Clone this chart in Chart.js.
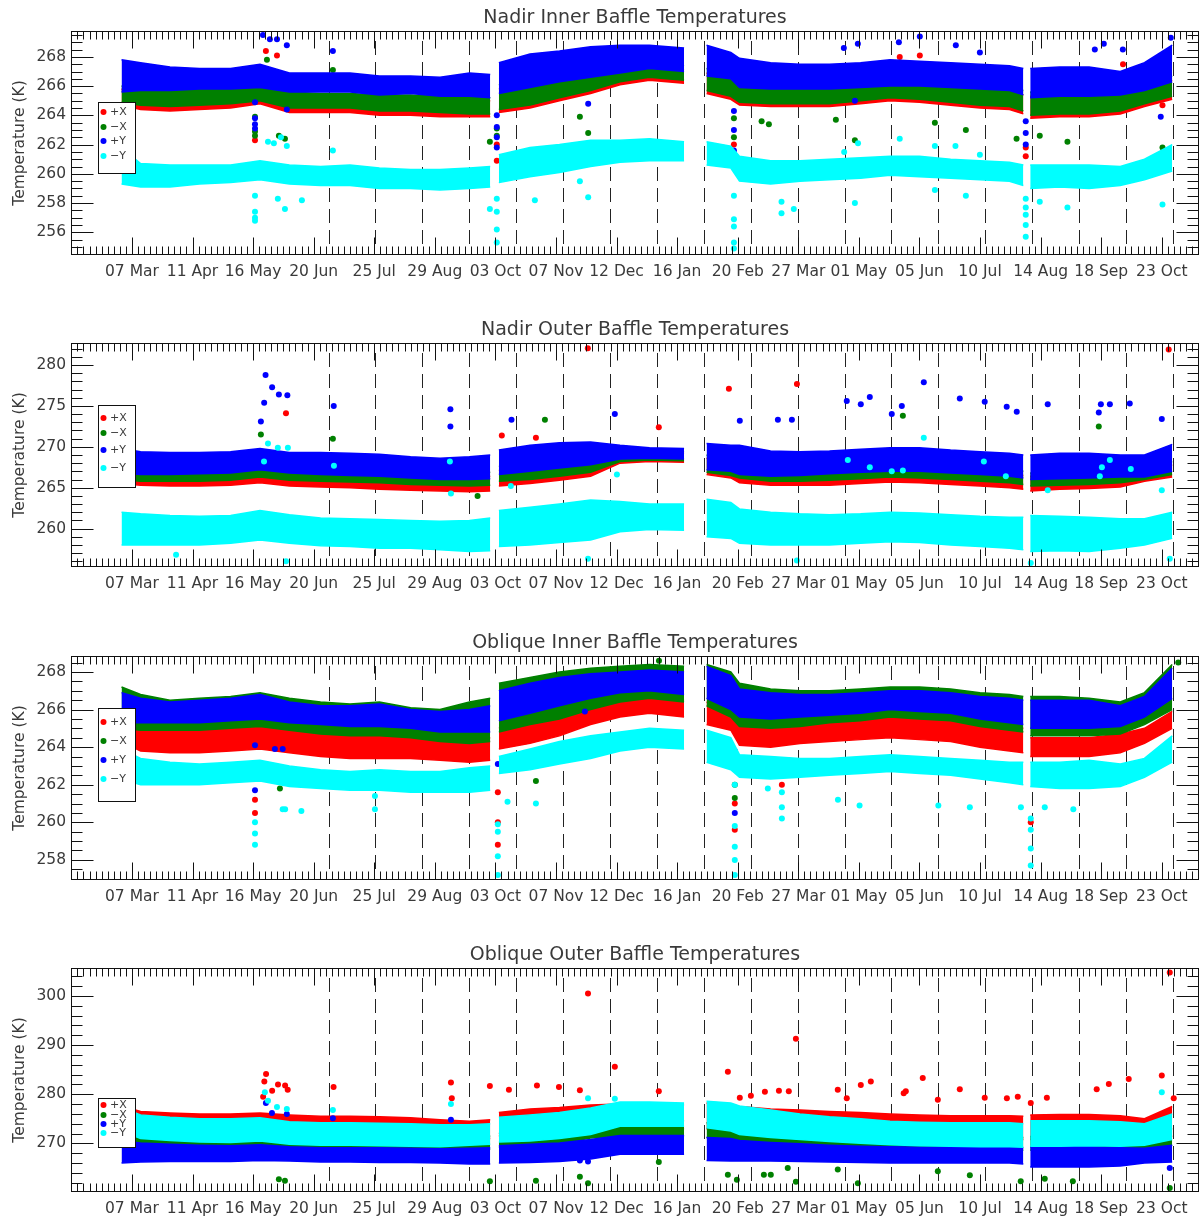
<!DOCTYPE html>
<html><head><meta charset="utf-8">
<script src="https://cdn.jsdelivr.net/npm/chart.js@4.4.1/dist/chart.umd.min.js"></script>
<style>
html,body{margin:0;padding:0;background:#fff;overflow:hidden;}
#wrap{position:relative;width:1203px;height:1221px;background:#fff;}
canvas{position:absolute;left:0;}
</style></head><body>
<div id="wrap">
<canvas id="c0" width="1203" height="312" style="top:0px"></canvas>
<canvas id="c1" width="1203" height="312" style="top:312px"></canvas>
<canvas id="c2" width="1203" height="312" style="top:625px"></canvas>
<canvas id="c3" width="1203" height="284" style="top:937px"></canvas>
</div>
<script>
// ---------- DATA ----------
const tickLabels = ['07 Mar','11 Apr','16 May','20 Jun','25 Jul','29 Aug','03 Oct','07 Nov','12 Dec','16 Jan','20 Feb','27 Mar','01 May','05 Jun','10 Jul','14 Aug','18 Sep','23 Oct'];
const seriesNames = ['+X','\u2212X','+Y','\u2212Y'];
const titles = ['Nadir Inner Baffle Temperatures','Nadir Outer Baffle Temperatures','Oblique Inner Baffle Temperatures','Oblique Outer Baffle Temperatures'];
// days since 07 Mar (x value), shared by all band series
const days = [-6,5,22,39,57,74,91,109,126,143,161,178,195,207,209,212,230,247,265,282,299,319,325,332,346,351,369,386,403,421,438,455,473,490,507,515,517,519,536,553,571,585,601];
// dashed vertical reference lines (days)
const rotationDays = [113.6,140.7,167.8,194.9,222.0,249.1,276.2,303.3,330.4,357.5,384.6,411.7,438.8,465.9,493.0,520.1,547.2,574.3,601.4];

// Panel 1: Nadir Inner
const p1RedLo   = [264.7,264.4,264.3,264.4,264.5,264.8,264.2,264.2,264.2,264.0,264.0,263.9,263.9,263.9,null,264.2,264.5,265.0,265.5,266.1,266.4,266.2,null,265.5,265.1,264.7,264.6,264.6,264.6,264.8,265.0,264.9,264.7,264.5,264.4,264.1,null,263.8,263.9,263.9,264.1,264.6,265.1];
const p1RedHi   = [265.8,265.6,265.5,265.6,265.6,265.8,265.3,265.2,265.2,265.1,265.1,265.0,265.0,265.0,null,265.8,266.1,266.5,266.8,267.1,267.3,267.1,null,266.9,266.6,266.0,265.8,265.8,265.9,266.0,266.2,266.1,265.9,265.7,265.6,265.4,null,265.3,265.3,265.4,265.4,265.7,266.4];
const p1GreenLo = [264.9,264.7,264.6,264.7,264.8,265.0,264.5,264.5,264.5,264.3,264.3,264.2,264.1,264.1,null,264.4,264.7,265.2,265.7,266.3,266.6,266.4,null,265.7,265.3,264.9,264.8,264.8,264.8,265.0,265.2,265.1,264.9,264.7,264.6,264.3,null,264.0,264.1,264.1,264.3,264.8,265.3];
const p1GreenHi = [266.0,265.9,265.8,265.9,265.9,266.1,265.6,265.5,265.5,265.4,265.4,265.3,265.3,265.2,null,266.1,266.4,266.8,267.1,267.4,267.6,267.4,null,267.2,266.9,266.3,266.1,266.1,266.2,266.3,266.5,266.4,266.2,266.0,265.9,265.7,null,265.6,265.6,265.7,265.7,266.0,266.7];
const p1BlueLo  = [265.6,265.7,265.7,265.8,265.8,265.9,265.6,265.6,265.6,265.4,265.5,265.3,265.3,265.2,null,265.5,265.9,266.3,266.6,266.9,267.2,267.0,null,266.7,266.5,265.9,265.8,265.8,265.8,265.9,266.0,266.0,265.9,265.8,265.7,265.4,null,265.2,265.3,265.3,265.4,265.7,266.3];
const p1BlueHi  = [267.8,267.6,267.3,267.2,267.2,267.5,266.9,266.9,266.9,266.7,266.7,266.6,266.9,266.8,null,267.6,268.2,268.4,268.7,268.8,268.8,268.6,null,268.8,268.3,267.9,267.6,267.5,267.5,267.6,267.8,267.7,267.6,267.5,267.4,267.2,null,267.2,267.3,267.3,267.0,267.6,268.8];
const p1CyanLo  = [259.3,259.1,259.1,259.3,259.4,259.6,259.3,259.2,259.2,259.0,259.0,258.9,259.0,259.1,null,259.4,259.8,260.1,260.5,260.8,260.9,260.9,null,260.6,260.4,259.5,259.3,259.5,259.6,259.7,259.9,259.8,259.7,259.6,259.5,259.2,null,259.0,259.1,259.0,259.2,259.6,260.2];
const p1CyanHi  = [261.8,260.7,260.6,260.6,260.6,260.9,260.6,260.5,260.6,260.4,260.3,260.3,260.4,260.5,null,261.3,261.8,262.0,262.3,262.3,262.4,262.2,null,262.2,261.9,261.2,260.9,260.9,261.0,261.1,261.2,261.2,261.0,260.9,260.8,260.6,null,260.6,260.6,260.6,260.5,261.0,262.0];
const p1RedOut   = [[77.4,268.4],[83.8,268.1],[71.1,262.3],[210.8,262.0],[210.8,260.9],[347.8,262.0],[347.8,260.7],[516.4,261.8],[516.4,261.2],[443.6,268.0],[455.2,268.1],[572.6,267.5],[595.4,264.7]];
const p1GreenOut = [[78.0,267.8],[84.9,262.6],[88.4,262.4],[71.1,263.9],[71.1,262.9],[71.1,262.6],[116.1,267.1],[206.8,262.2],[258.8,263.9],[263.6,262.8],[210.8,263.1],[210.8,262.6],[347.8,263.8],[347.8,262.5],[363.8,263.6],[368.0,263.4],[417.7,262.3],[406.7,263.7],[463.9,263.5],[481.8,263.0],[511.1,262.4],[524.5,262.6],[540.5,262.2],[595.4,261.8]];
const p1BlueOut  = [[75.7,269.5],[79.7,269.2],[83.8,269.2],[89.5,268.8],[116.1,268.4],[71.1,264.9],[71.1,263.8],[71.1,263.4],[71.1,263.1],[89.5,264.4],[210.8,264.0],[210.8,263.2],[210.8,262.5],[210.8,261.8],[263.6,264.8],[347.8,264.3],[347.8,263.0],[347.8,261.6],[347.8,261.0],[411.3,268.6],[419.4,268.9],[443.1,269.0],[455.2,269.4],[476.0,268.8],[489.9,268.3],[516.4,263.6],[516.4,262.8],[516.4,262.0],[556.3,268.5],[561.5,268.9],[572.5,268.5],[594.4,263.9],[600.2,269.3],[417.7,265.0]];
const p1CyanOut  = [[71.1,258.5],[71.1,257.4],[71.1,257.0],[71.1,256.8],[78.6,262.2],[82.0,262.1],[86.1,262.5],[89.5,261.9],[84.3,258.3],[88.4,257.6],[98.2,258.2],[116.1,261.6],[206.8,257.6],[210.8,258.3],[210.8,257.4],[210.8,256.2],[210.8,255.3],[232.8,258.2],[258.8,259.5],[263.6,258.4],[347.8,258.5],[347.8,256.9],[347.8,256.4],[347.8,255.3],[347.8,254.9],[375.3,258.1],[375.3,257.3],[382.4,257.6],[417.7,258.0],[463.9,258.9],[481.8,258.5],[516.4,258.3],[516.4,257.7],[516.4,257.2],[516.4,256.5],[516.4,255.7],[524.5,258.1],[540.5,257.7],[595.4,257.9],[411.5,261.5],[419.5,262.1],[443.6,262.4],[463.9,261.9],[475.8,261.9],[489.9,261.3]];

// Panel 2: Nadir Outer
const p2RedLo   = [265.5,265.3,265.2,265.2,265.3,265.6,265.2,265.1,265.0,264.8,264.7,264.6,264.5,264.6,null,265.2,265.5,265.9,266.4,268.0,268.2,268.1,null,266.6,266.2,265.6,265.3,265.3,265.3,265.5,265.7,265.6,265.4,265.2,265.0,264.8,null,264.6,264.8,264.9,265.1,265.8,266.3];
const p2RedHi   = [268.0,267.3,267.2,267.1,267.2,267.5,267.1,266.9,266.8,266.6,266.5,266.3,266.3,266.4,null,267.1,267.4,267.8,268.2,269.2,269.3,269.2,null,268.6,268.0,267.5,267.1,267.0,267.1,267.3,267.5,267.5,267.3,267.0,266.8,266.5,null,266.4,266.4,266.5,266.6,267.0,267.8];
const p2GreenLo = [266.0,265.8,265.8,265.8,265.9,266.3,265.9,265.8,265.7,265.6,265.4,265.3,265.2,265.3,null,265.8,266.0,266.4,266.9,268.2,268.4,268.3,null,266.9,266.5,266.2,265.8,265.8,265.9,266.1,266.3,266.2,266.0,265.8,265.6,265.4,null,265.2,265.3,265.4,265.6,266.0,266.6];
const p2GreenHi = [268.5,267.8,267.7,267.6,267.7,268.0,267.6,267.4,267.3,267.2,267.0,266.8,266.8,266.9,null,267.6,268.0,268.3,268.7,269.5,269.5,269.4,null,269.0,268.5,268.0,267.6,267.5,267.6,267.8,268.0,268.0,267.8,267.5,267.3,267.0,null,266.8,266.9,267.0,267.0,267.4,268.2];
const p2BlueLo  = [266.8,266.6,266.6,266.7,266.8,267.2,266.8,266.6,266.5,266.4,266.2,266.0,266.0,266.1,null,266.6,267.0,267.4,267.8,268.5,268.6,268.5,null,267.2,267.0,266.6,266.4,266.5,266.7,266.9,267.0,267.0,266.8,266.6,266.4,266.2,null,266.0,266.1,266.2,266.3,266.3,267.0];
const p2BlueHi  = [269.8,269.4,269.3,269.3,269.4,269.8,269.3,269.3,269.2,269.1,268.8,268.6,268.8,269.0,null,269.6,270.2,270.5,270.6,270.2,269.9,269.8,null,270.4,270.2,270.2,269.5,269.4,269.5,269.7,269.9,269.9,269.6,269.4,269.2,269.0,null,269.0,269.2,269.2,269.0,269.0,270.3];
const p2CyanLo  = [258.0,258.0,258.0,258.0,258.2,258.6,258.2,257.9,257.8,257.6,257.6,257.4,257.2,257.3,null,257.8,258.0,258.3,258.6,259.6,259.9,259.8,null,259.0,258.8,258.2,258.0,258.0,258.0,258.2,258.4,258.3,258.0,257.8,257.6,257.4,null,257.2,257.3,257.2,257.6,258.0,258.8];
const p2CyanHi  = [262.0,261.8,261.6,261.5,261.6,262.2,261.7,261.3,261.2,261.1,261.0,260.9,261.0,261.3,null,262.2,262.6,263.0,263.5,263.3,263.0,263.0,null,263.6,263.2,262.4,262.0,261.8,261.7,261.8,262.0,261.9,261.7,261.5,261.4,261.4,null,261.6,261.5,261.4,261.2,261.2,262.0];
const p2RedOut   = [[89.0,274.1],[304.4,272.4],[344.9,277.1],[384.2,277.7],[263.4,282.05],[599.0,281.9],[213.7,271.4],[233.4,271.1]];
const p2GreenOut = [[74.5,271.5],[116.1,271.0],[445.4,273.8],[558.6,272.5],[238.6,273.3],[86.6,260.9],[199.7,264.0]];
const p2BlueOut  = [[77.2,278.8],[81.0,277.3],[84.9,276.4],[89.8,276.3],[76.4,275.4],[74.5,273.1],[116.6,275.0],[184.0,274.6],[184.0,272.5],[219.3,273.3],[279.0,274.0],[351.2,273.2],[373.2,273.3],[381.3,273.3],[413.0,275.6],[421.1,275.2],[426.3,276.1],[439.0,274.0],[444.8,275.0],[457.5,277.9],[478.3,275.9],[492.7,275.5],[505.4,274.9],[511.2,274.3],[529.1,275.2],[558.6,274.2],[559.8,275.2],[565.0,275.2],[576.5,275.3],[595.0,273.4]];
const p2CyanOut  = [[78.6,270.4],[84.3,269.9],[90.1,269.9],[76.3,268.2],[116.7,267.7],[183.7,268.2],[184.3,264.3],[218.9,265.2],[280.2,266.6],[413.6,268.4],[426.3,267.5],[439.0,267.0],[445.4,267.1],[457.5,271.1],[492.2,268.2],[504.9,266.4],[529.1,264.7],[559.2,266.4],[560.4,267.5],[565.0,268.4],[577.1,267.3],[595.0,264.7],[384.2,256.1],[519.3,255.8],[599.6,256.3],[89.0,256.0],[25.5,256.8],[263.5,256.3]];

// Panel 3: Oblique Inner
const p3RedLo   = [264.3,263.8,263.7,263.7,263.8,263.9,263.7,263.5,263.4,263.4,263.4,263.3,263.2,263.3,null,263.9,264.2,264.6,265.2,265.6,265.8,265.6,null,265.2,264.9,264.1,264.0,264.2,264.3,264.4,264.5,264.4,264.3,264.0,263.8,263.7,null,263.5,263.5,263.5,263.7,264.2,265.0];
const p3RedHi   = [265.3,265.1,265.0,265.0,265.1,265.2,264.9,264.7,264.6,264.7,264.5,264.4,264.4,264.5,null,265.0,265.4,265.9,266.3,266.5,266.6,266.5,null,266.4,266.1,265.2,265.1,265.2,265.3,265.4,265.6,265.6,265.4,265.2,265.1,265.0,null,264.5,264.5,264.5,264.7,265.0,265.9];
const p3GreenLo = [265.0,264.9,264.9,264.9,265.0,265.1,264.9,264.7,264.6,264.6,264.5,264.3,264.2,264.3,null,264.8,265.2,265.5,266.0,266.4,266.6,266.4,null,266.2,265.6,265.1,265.0,265.1,265.3,265.4,265.6,265.5,265.4,265.1,264.9,264.8,null,264.6,264.6,264.6,264.7,265.2,266.0];
const p3GreenHi = [267.2,266.8,266.5,266.6,266.7,266.9,266.6,266.4,266.3,266.4,266.1,266.0,266.4,266.6,null,267.4,267.7,268.0,268.2,268.3,268.4,268.3,null,268.4,268.0,267.4,267.1,267.0,267.0,267.1,267.2,267.2,267.1,266.9,266.8,266.7,null,266.7,266.7,266.6,266.4,266.9,268.4];
const p3BlueLo  = [265.3,265.3,265.3,265.3,265.4,265.5,265.3,265.2,265.1,265.1,265.0,264.8,264.8,264.8,null,265.4,265.8,266.2,266.6,266.9,267.0,266.8,null,266.6,266.0,265.6,265.5,265.6,265.7,265.8,266.0,265.9,265.8,265.5,265.3,265.2,null,265.0,265.0,265.0,265.1,265.6,266.6];
const p3BlueHi  = [266.9,266.6,266.4,266.5,266.6,266.8,266.4,266.2,266.2,266.3,266.0,265.9,266.0,266.2,null,267.0,267.4,267.7,267.9,268.0,268.1,268.0,null,268.3,267.8,267.1,266.9,266.8,266.8,266.9,267.0,267.0,266.9,266.7,266.6,266.5,null,266.5,266.5,266.5,266.2,266.7,268.2];
const p3CyanLo  = [262.3,262.0,262.0,262.0,262.1,262.2,261.9,261.8,261.7,261.7,261.6,261.6,261.6,261.7,null,262.6,262.8,263.1,263.4,263.8,264.0,263.9,null,263.2,262.8,262.4,262.3,262.4,262.5,262.6,262.7,262.6,262.5,262.3,262.1,262.0,null,261.9,261.8,261.8,261.9,262.4,263.2];
const p3CyanHi  = [263.9,263.4,263.2,263.1,263.2,263.3,263.0,262.8,262.7,262.8,262.7,262.7,262.9,263.0,null,263.5,263.9,264.3,264.6,264.8,265.0,264.9,null,264.9,264.5,263.6,263.5,263.4,263.4,263.5,263.6,263.5,263.4,263.3,263.2,263.2,null,263.2,263.2,263.3,263.1,263.4,264.6];
const p3RedOut   = [[71.1,261.2],[71.1,260.5],[211.4,261.6],[211.4,260.0],[211.4,258.8],[348.3,261.0],[348.3,259.6],[519.3,260.0],[375.5,262.0],[140.4,262.6]];
const p3GreenOut = [[85.5,261.8],[233.4,262.2],[348.3,262.0],[348.3,261.3],[604.5,268.5],[304.5,268.6]];
const p3BlueOut  = [[71.1,264.1],[71.1,261.7],[211.4,263.1],[348.3,263.8],[348.3,260.5],[82.6,263.9],[87.1,263.9],[261.7,265.9]];
const p3CyanOut  = [[71.1,260.0],[71.1,259.4],[71.1,258.8],[211.4,259.9],[211.4,259.5],[211.4,258.2],[211.4,257.2],[348.3,262.0],[348.3,259.8],[348.3,258.7],[348.3,258.0],[348.3,257.2],[519.3,260.2],[519.3,259.6],[519.3,258.6],[519.3,257.7],[375.5,261.6],[375.5,260.8],[375.5,260.2],[140.4,261.4],[140.4,260.7],[87.1,260.7],[88.5,260.7],[97.9,260.6],[217.0,261.1],[233.4,261.0],[367.4,261.8],[407.9,261.2],[420.4,260.9],[465.9,260.9],[484.1,260.8],[513.6,260.8],[527.4,260.8],[543.9,260.7]];

// Panel 4: Oblique Outer
const p4RedLo   = [272.5,272.0,272.0,272.0,272.0,272.0,271.5,271.3,271.3,271.2,271.0,270.8,270.8,271.0,null,271.5,272.0,272.3,272.6,273.0,273.0,273.0,null,273.0,272.5,272.2,272.0,271.8,271.5,271.3,271.0,270.8,270.8,270.8,270.8,270.8,null,270.8,270.8,270.8,270.6,270.5,271.5];
const p4RedHi   = [277.6,276.5,276.2,276.0,276.0,276.2,275.8,275.5,275.5,275.4,275.2,274.8,274.5,274.8,null,276.3,277.0,277.3,277.8,278.0,278.0,277.8,null,278.2,278.0,277.5,277.0,276.8,276.5,276.3,276.0,275.8,275.6,275.6,275.6,275.5,null,275.8,275.9,275.9,275.6,275.0,277.5];
const p4GreenLo = [270.4,269.8,269.4,269.2,269.1,269.2,268.9,268.8,268.8,268.8,268.6,268.5,268.6,268.8,null,269.2,269.5,269.9,271.1,271.5,271.5,271.5,null,271.2,270.8,270.2,269.9,269.6,269.3,269.1,268.9,268.8,268.7,268.7,268.7,268.6,null,268.6,268.6,268.7,268.6,268.6,269.6];
const p4GreenHi = [273.5,272.8,272.5,272.3,272.2,272.4,271.8,271.6,271.6,271.5,271.3,271.2,271.2,271.5,null,272.0,272.4,272.8,273.8,274.6,274.6,274.6,null,274.2,274.0,273.3,272.8,272.4,272.0,271.8,271.6,271.4,271.3,271.3,271.3,271.2,null,271.4,271.4,271.4,271.3,271.8,273.0];
const p4BlueLo  = [266.0,266.2,266.3,266.3,266.3,266.5,266.4,266.2,266.2,266.1,266.1,266.0,265.8,265.8,null,266.0,266.1,266.3,266.8,267.8,267.8,267.8,null,266.5,266.4,266.4,266.4,266.3,266.2,266.1,266.0,266.0,266.0,266.0,266.0,265.8,null,265.2,265.2,265.2,265.4,266.0,266.2];
const p4BlueHi  = [270.5,270.1,269.8,269.6,269.5,269.7,269.3,269.1,269.1,269.1,269.0,268.9,269.0,269.1,null,269.5,269.8,270.1,270.8,271.6,271.6,271.6,null,271.2,271.0,270.6,270.2,269.9,269.6,269.4,269.3,269.2,269.2,269.2,269.2,269.1,null,269.3,269.3,269.3,269.1,269.0,269.6];
const p4CyanLo  = [272.5,271.0,270.6,270.3,270.2,270.5,269.8,269.6,269.6,269.5,269.4,269.3,269.6,269.8,null,270.3,270.5,271.0,271.8,273.5,273.5,273.5,null,273.2,272.5,271.8,271.2,270.8,270.4,270.0,269.7,269.5,269.4,269.3,269.3,269.2,null,269.4,269.4,269.5,269.4,269.6,270.8];
const p4CyanHi  = [277.3,275.8,275.3,275.0,275.0,275.2,274.4,274.2,274.2,274.1,274.0,273.8,273.8,274.0,null,275.3,275.8,276.3,277.2,278.4,278.4,278.2,null,278.6,278.2,277.6,276.8,276.0,275.4,275.0,274.5,274.3,274.2,274.2,274.2,274.0,null,274.6,274.6,274.6,274.4,274.0,276.0];
const p4RedOut   = [[75.8,279.5],[76.5,282.6],[77.5,284.1],[81.0,280.7],[84.4,282.0],[88.5,281.8],[90.0,280.9],[116.5,281.5],[184.3,282.4],[184.8,279.2],[206.8,281.7],[217.8,280.9],[234.0,281.8],[246.7,281.5],[258.8,280.8],[263.5,300.5],[279.0,285.6],[304.4,280.6],[344.3,284.6],[351.2,279.3],[357.6,279.7],[365.7,280.5],[373.8,280.7],[379.5,280.6],[383.6,291.3],[407.8,280.9],[413.0,279.2],[421.1,281.9],[426.9,282.6],[445.9,280.2],[447.1,280.6],[456.9,283.3],[465.6,278.9],[478.3,281.0],[492.7,279.3],[505.5,279.2],[511.8,279.5],[519.3,278.2],[528.6,279.3],[557.4,281.0],[564.4,282.1],[575.9,283.1],[595.0,283.8],[599.6,304.8],[601.9,279.2]];
const p4GreenOut = [[84.9,262.7],[88.4,262.4],[206.8,262.3],[233.4,262.4],[258.8,263.2],[263.5,261.9],[304.4,266.2],[344.3,263.6],[349.5,262.6],[365.1,263.6],[369.1,263.6],[378.9,265.0],[383.6,262.2],[407.8,264.7],[419.4,261.9],[465.6,264.3],[484.1,263.5],[513.5,262.3],[527.4,262.8],[543.6,262.3],[599.6,260.9]];
const p4BlueOut  = [[77.4,278.2],[80.9,276.2],[89.5,276.0],[116.1,275.1],[184.3,274.8],[258.8,266.5],[263.5,266.3],[599.6,265.0]];
const p4CyanOut  = [[76.8,280.4],[78.6,278.7],[83.8,277.4],[89.5,277.0],[116.1,276.8],[184.3,278.0],[263.5,279.2],[279.0,279.1],[595.0,280.4]];

// ---------- STYLE / LAYOUT ----------
const COLORS = ['#ff0000','#008000','#0000ff','#00ffff'];
const FONT = '"DejaVu Sans", sans-serif';
const TXT = '#3a3a3a';
const panels = [
  {canvas:'c0', h:312, title:titles[0], yMin:254.45, yMax:269.77, yStep:2, yMinor:4,
   bands:[[p1RedLo,p1RedHi],[p1GreenLo,p1GreenHi],[p1BlueLo,p1BlueHi],[p1CyanLo,p1CyanHi]],
   outliers:[p1RedOut,p1GreenOut,p1BlueOut,p1CyanOut],
   legend:{top:102,bottom:173,rows:[112,127,141,156]}},
  {canvas:'c1', h:312, title:titles[1], yMin:255.3, yMax:282.7, yStep:5, yMinor:5,
   bands:[[p2RedLo,p2RedHi],[p2GreenLo,p2GreenHi],[p2BlueLo,p2BlueHi],[p2CyanLo,p2CyanHi]],
   outliers:[p2RedOut,p2GreenOut,p2BlueOut,p2CyanOut],
   legend:{top:93,bottom:175,rows:[106,121,138,156]}},
  {canvas:'c2', h:312, title:titles[2], yMin:256.93, yMax:268.85, yStep:2, yMinor:4,
   bands:[[p3RedLo,p3RedHi],[p3GreenLo,p3GreenHi],[p3BlueLo,p3BlueHi],[p3CyanLo,p3CyanHi]],
   outliers:[p3RedOut,p3GreenOut,p3BlueOut,p3CyanOut],
   legend:{top:83,bottom:176,rows:[97,116,135,154]}},
  {canvas:'c3', h:284, title:titles[3], yMin:260.1, yMax:305.7, yStep:10, yMinor:5,
   bands:[[p4RedLo,p4RedHi],[p4GreenLo,p4GreenHi],[p4BlueLo,p4BlueHi],[p4CyanLo,p4CyanHi]],
   outliers:[p4RedOut,p4GreenOut,p4BlueOut,p4CyanOut],
   legend:{top:161,bottom:210,rows:[168,178,187,196]}}
];

const idlPlugin = {
  id:'idl',
  beforeDatasetsDraw(chart){
    const {ctx, chartArea:a, scales:{x}} = chart;
    ctx.save();
    ctx.strokeStyle = '#222'; ctx.lineWidth = 1; ctx.setLineDash([14,7]);
    rotationDays.forEach(d=>{
      const px = Math.round(x.getPixelForValue(d)) + 0.5;
      ctx.beginPath(); ctx.moveTo(px, a.top + 10); ctx.lineTo(px, a.bottom - 7); ctx.stroke();
    });
    ctx.restore();
  },
  afterDatasetsDraw(chart, args, opts){
    const {ctx, chartArea:a, scales:{x, y}} = chart;
    const L = Math.round(a.left)+0.5, R = Math.round(a.right)-0.5, T = Math.round(a.top)+0.5, B = Math.round(a.bottom)-0.5;
    ctx.save();
    ctx.strokeStyle = '#111'; ctx.lineWidth = 1; ctx.setLineDash([]);
    ctx.strokeRect(L, T, R-L, B-T);
    ctx.beginPath();
    const xStep = 35, xMinorStep = 3.5;
    x.ticks.forEach(t=>{
      const px = Math.round(x.getPixelForValue(t.value)) + 0.5;
      ctx.moveTo(px, B); ctx.lineTo(px, B-17);
      ctx.moveTo(px, T); ctx.lineTo(px, T+17);
    });
    for (let v = Math.ceil(x.min/xMinorStep)*xMinorStep; v <= x.max; v += xMinorStep) {
      const r = v / xStep;
      if (Math.abs(r - Math.round(r)) < 1e-6) continue;
      const px = Math.round(x.getPixelForValue(v)) + 0.5;
      ctx.moveTo(px, B); ctx.lineTo(px, B-8);
      ctx.moveTo(px, T); ctx.lineTo(px, T+8);
    }
    y.ticks.forEach(t=>{
      const py = Math.round(y.getPixelForValue(t.value)) + 0.5;
      ctx.moveTo(L, py); ctx.lineTo(L+22, py);
      ctx.moveTo(R, py); ctx.lineTo(R-22, py);
    });
    const yMinorStep = opts.yStep / opts.yMinor;
    for (let v = Math.ceil(y.min/yMinorStep)*yMinorStep; v <= y.max; v += yMinorStep) {
      const r = v / opts.yStep;
      if (Math.abs(r - Math.round(r)) < 1e-6) continue;
      const py = Math.round(y.getPixelForValue(v)) + 0.5;
      ctx.moveTo(L, py); ctx.lineTo(L+11, py);
      ctx.moveTo(R, py); ctx.lineTo(R-11, py);
    }
    ctx.stroke();
    const lg = opts.legend;
    ctx.fillStyle = '#fff';
    ctx.fillRect(98, lg.top, 37, lg.bottom - lg.top);
    ctx.strokeStyle = '#111';
    ctx.strokeRect(98.5, lg.top + 0.5, 37, lg.bottom - lg.top);
    ctx.font = '11px ' + FONT; ctx.textAlign = 'left'; ctx.textBaseline = 'middle';
    lg.rows.forEach((ry, i)=>{
      ctx.fillStyle = COLORS[i];
      ctx.beginPath(); ctx.arc(103.5, ry, 3, 0, Math.PI*2); ctx.fill();
      ctx.fillStyle = TXT;
      ctx.fillText(seriesNames[i], 110, ry);
    });
    ctx.fillStyle = TXT;
    ctx.font = '19px ' + FONT; ctx.textAlign = 'center'; ctx.textBaseline = 'alphabetic';
    ctx.fillText(opts.title, (a.left + a.right)/2, a.top - 8);
    ctx.save();
    ctx.translate(20, (a.top + a.bottom)/2);
    ctx.rotate(-Math.PI/2);
    ctx.font = '15.5px ' + FONT; ctx.textAlign = 'center'; ctx.textBaseline = 'middle';
    ctx.fillText('Temperature (K)', 0, 0);
    ctx.restore();
    ctx.restore();
  }
};

function makeChart(p){
  const datasets = [];
  p.bands.forEach((band, s)=>{
    const order = 4 - s;
    datasets.push({data: days.map((d,i)=>({x:d, y:band[0][i]})), borderColor: COLORS[s], borderWidth: 1.5,
      pointRadius: 0, fill: false, order, spanGaps: false});
    datasets.push({data: days.map((d,i)=>({x:d, y:band[1][i]})), borderColor: COLORS[s], backgroundColor: COLORS[s],
      borderWidth: 1.5, pointRadius: 0, fill: '-1', order, spanGaps: false});
    datasets.push({data: p.outliers[s].map(([d,t])=>({x:d, y:t})), showLine: false, pointRadius: 3,
      pointBackgroundColor: COLORS[s], pointBorderWidth: 0, borderColor: COLORS[s], backgroundColor: COLORS[s], order});
  });
  const H = p.h;
  new Chart(document.getElementById(p.canvas), {
    type: 'line',
    data: {datasets},
    plugins: [idlPlugin],
    options: {
      responsive: false, animation: false, devicePixelRatio: 1, events: [],
      layout: {padding: {top: 31, right: 4, left: 0, bottom: 0}, autoPadding: false},
      plugins: {legend: {display:false}, tooltip: {enabled:false}, title: {display:false},
        idl: {title: p.title, yStep: p.yStep, yMinor: p.yMinor, legend: p.legend}},
      scales: {
        x: {type: 'linear', min: -35.2, max: 616.5,
          grid: {display: false, drawTicks: false}, border: {display: false},
          ticks: {stepSize: 35, autoSkip: false, maxRotation: 0, includeBounds: false, padding: 8,
            color: TXT, font: {family: FONT, size: 15.5},
            callback: (v)=>{ const k = Math.round(v/35); return (k>=0 && k<tickLabels.length && Math.abs(v-35*k)<1e-6) ? tickLabels[k] : ''; }},
          afterFit: (s)=>{ s.height = H - 255; }},
        y: {type: 'linear', min: p.yMin, max: p.yMax,
          grid: {display: false, drawTicks: false}, border: {display: false},
          ticks: {stepSize: p.yStep, includeBounds: false, padding: 5, color: TXT, font: {family: FONT, size: 15.5},
            callback: (v)=> String(Math.round(v))},
          afterFit: (s)=>{ s.width = 71; }}
      }
    }
  });
}
panels.forEach(makeChart);
</script>
</body></html>
